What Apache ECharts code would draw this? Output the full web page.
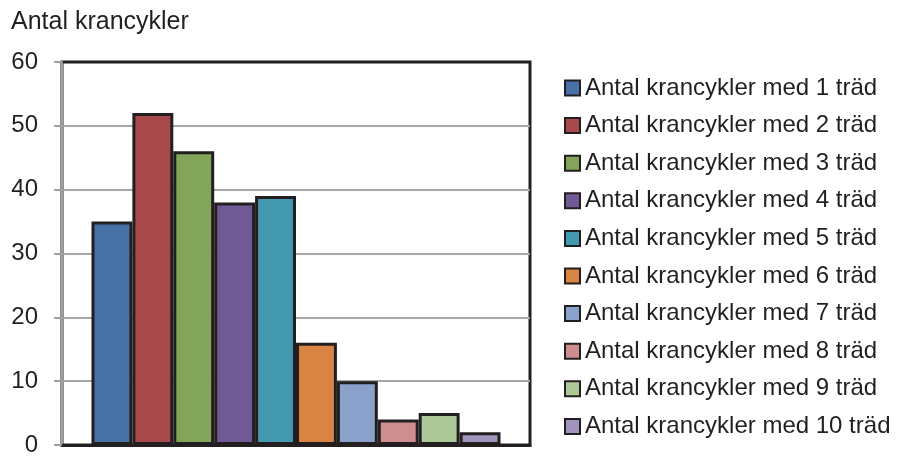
<html>
<head>
<meta charset="UTF-8">
<script src="https://cdn.jsdelivr.net/npm/echarts@6/dist/echarts.min.js"></script>
<title>Antal krancykler</title>
</head>
<body style="margin:0;background:#fff">
<div id="main" style="width:897px;height:457px"></div>
<script type="text/javascript">
	var seriesNames = ['Antal krancykler med 1 träd', 'Antal krancykler med 2 träd',
		'Antal krancykler med 3 träd', 'Antal krancykler med 4 träd',
		'Antal krancykler med 5 träd', 'Antal krancykler med 6 träd',
		'Antal krancykler med 7 träd', 'Antal krancykler med 8 träd',
		'Antal krancykler med 9 träd', 'Antal krancykler med 10 träd'];
	var values = [35, 52, 46, 38, 39, 16, 10, 4, 5, 2];
	var colors = ['#4672a8', '#a84a4b', '#82a559', '#6f5a95', '#4399b0',
		'#d98443', '#8aa2cb', '#ce8e8f', '#adc998', '#a194bd'];
	var yTicks = [0, 10, 20, 30, 40, 50, 60];

	var series = [];
	for (var i = 0; i < seriesNames.length; i++) {
		series.push({
			name : seriesNames[i],
			type : 'bar',
			data : [ values[i] ],
			barGap : '0%',
			barCategoryGap : '12.6%',
			itemStyle : {
				color : colors[i],
				borderColor : '#231f20',
				borderWidth : 3
			}
		});
	}

	var myChart = echarts.init(document.getElementById('main'));
	var option = {
		animation : false,
		title : {
			text : 'Antal krancykler',
			left : 6,
			top : 5,
			textStyle : {
				fontFamily : 'Liberation Sans',
				fontSize : 25,
				fontWeight : 'normal',
				color : '#231f20'
			}
		},
		legend : {
			orient : 'vertical',
			left : 559,
			top : 71,
			itemWidth : 15,
			itemHeight : 15,
			itemGap : 13.6,
			icon : 'rect',
			data : seriesNames,
			textStyle : {
				fontFamily : 'Liberation Sans',
				fontSize : 24,
				color : '#231f20',
				padding : [0, 0, 0, 0]
			}
		},
		grid : {
			left : 62,
			right : 367,
			top : 62,
			bottom : 9,
			show : true,
			borderColor : '#231f20',
			borderWidth : 3
		},
		xAxis : {
			type : 'category',
			data : [ '' ],
			axisLine : { lineStyle : { color : '#231f20', width : 3 } },
			axisTick : { show : false },
			axisLabel : { show : false }
		},
		yAxis : {
			type : 'value',
			min : yTicks[0],
			max : yTicks[yTicks.length - 1],
			interval : 10,
			axisLine : { show : true, lineStyle : { color : '#a0a0a4', width : 2 } },
			axisTick : { show : true, length : 8, lineStyle : { color : '#a0a0a4', width : 2 } },
			splitLine : { showMaxLine : false, lineStyle : { color : '#a6a6a6', width : 2 } },
			axisLabel : {
				margin : 24,
				fontFamily : 'Liberation Sans',
				fontSize : 24,
				color : '#231f20'
			}
		},
		series : series
	};
	myChart.setOption(option);
</script>
</body>
</html>
